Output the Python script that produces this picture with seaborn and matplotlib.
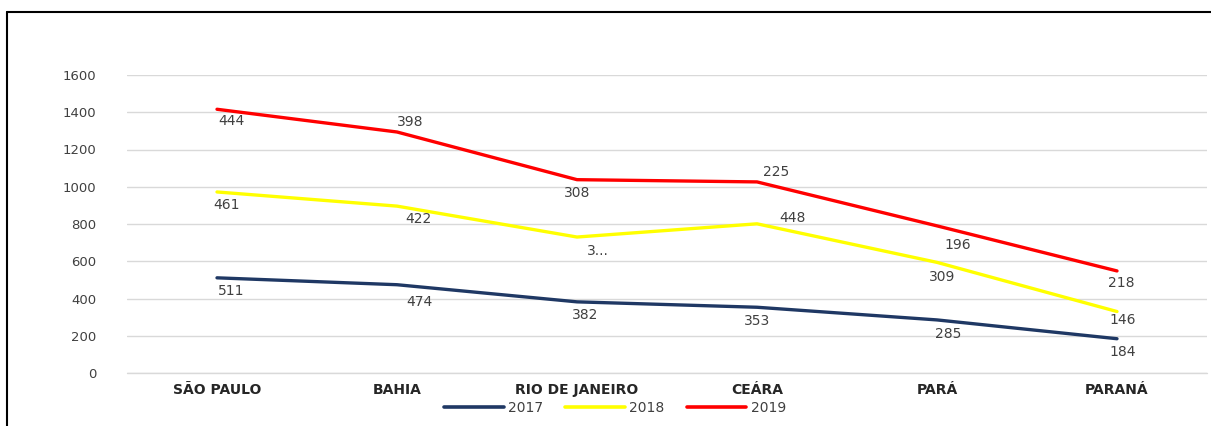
import pandas as pd
import seaborn as sns
import numpy as np
import matplotlib.pyplot as plt
from matplotlib.lines import Line2D

estados = ["SÃO PAULO", "BAHIA", "RIO DE JANEIRO", "CEÁRA", "PARÁ", "PARANÁ"]
anos = ["2017", "2018", "2019"]
v2017 = [511, 474, 382, 353, 285, 184]
v2018 = [461, 422, 348, 448, 309, 146]
v2019 = [444, 398, 308, 225, 196, 218]
# texto dos rotulos (o de RJ 2018 aparece cortado no original)
rot2018 = ["461", "422", "3...", "448", "309", "146"]

# grafico de linhas empilhadas
cum2017 = np.array(v2017)
cum2018 = cum2017 + np.array(v2018)
cum2019 = cum2018 + np.array(v2019)

dt = pd.DataFrame({
    "estado": estados * 3,
    "ano": ["2017"] * 6 + ["2018"] * 6 + ["2019"] * 6,
    "valor": list(cum2017) + list(cum2018) + list(cum2019),
})

cores = {"2017": "#1f3864", "2018": "#ffff00", "2019": "#ff0000"}

sns.set_style("white")
plt.rcParams['font.family'] = ['DejaVu Sans']

fig = plt.figure(figsize=(12.11, 4.26), dpi=100)
ax = fig.add_axes([127/1211, 1-373/426, 1080/1211, 298/426])

sns.lineplot(data=dt, x="estado", y="valor", hue="ano", palette=cores,
             linewidth=2.4, ax=ax, legend=False, sort=False)

ax.set_ylim(0, 1600)
ax.set_xlim(-0.5, 5.5)
ax.set_yticks(range(0, 1601, 200))
ax.yaxis.grid(True, color="#d9d9d9", linewidth=1)
ax.axhline(0, color="#d9d9d9", linewidth=1, clip_on=False, zorder=0)
ax.set_xlabel("")
ax.set_ylabel("")
for s in ax.spines.values():
    s.set_visible(False)
ax.tick_params(axis="y", length=0, pad=22, labelsize=9.5, labelcolor="#404040")
ax.tick_params(axis="x", length=0, pad=7, labelsize=10)
for t in ax.get_xticklabels():
    t.set_fontweight("bold")
    t.set_color("#262626")

# offsets dos rotulos (pixels): dx, dy (positivo = para baixo)
off2017 = [(14, 13), (22, 17), (8, 13), (0, 14), (11, 14), (6, 13)]
off2018 = [(10, 13), (21, 13), (21, 14), (35, -6), (5, 15), (6, 8)]
off2019 = [(14, 12), (13, -10), (0, 13), (19, -10), (21, 19), (4, 12)]

series = [(cum2017, [str(v) for v in v2017], off2017),
          (cum2018, rot2018, off2018),
          (cum2019, [str(v) for v in v2019], off2019)]
for cum, textos, offs in series:
    for i in range(6):
        dx, dy = offs[i]
        ax.annotate(textos[i], (i, cum[i]), xytext=(dx * 0.72, -dy * 0.72),
                    textcoords="offset points", ha="center", va="center",
                    fontsize=10, color="#404040")

handles = [Line2D([0], [0], color=cores[a], linewidth=2.6) for a in anos]
fig.legend(handles, anos, loc="center", bbox_to_anchor=(615/1211, 1-408/426),
           ncol=3, frameon=False, handlelength=4.3, handletextpad=0.3,
           columnspacing=1.6, fontsize=10, labelcolor="#404040")

# moldura (borda esquerda e superior)
fig.add_artist(Line2D([7/1211, 7/1211], [0, 1-12/426], color="black", linewidth=1.5))
fig.add_artist(Line2D([7/1211, 1], [1-12/426, 1-12/426], color="black", linewidth=1.5))

fig.savefig("out.png", dpi=100)
